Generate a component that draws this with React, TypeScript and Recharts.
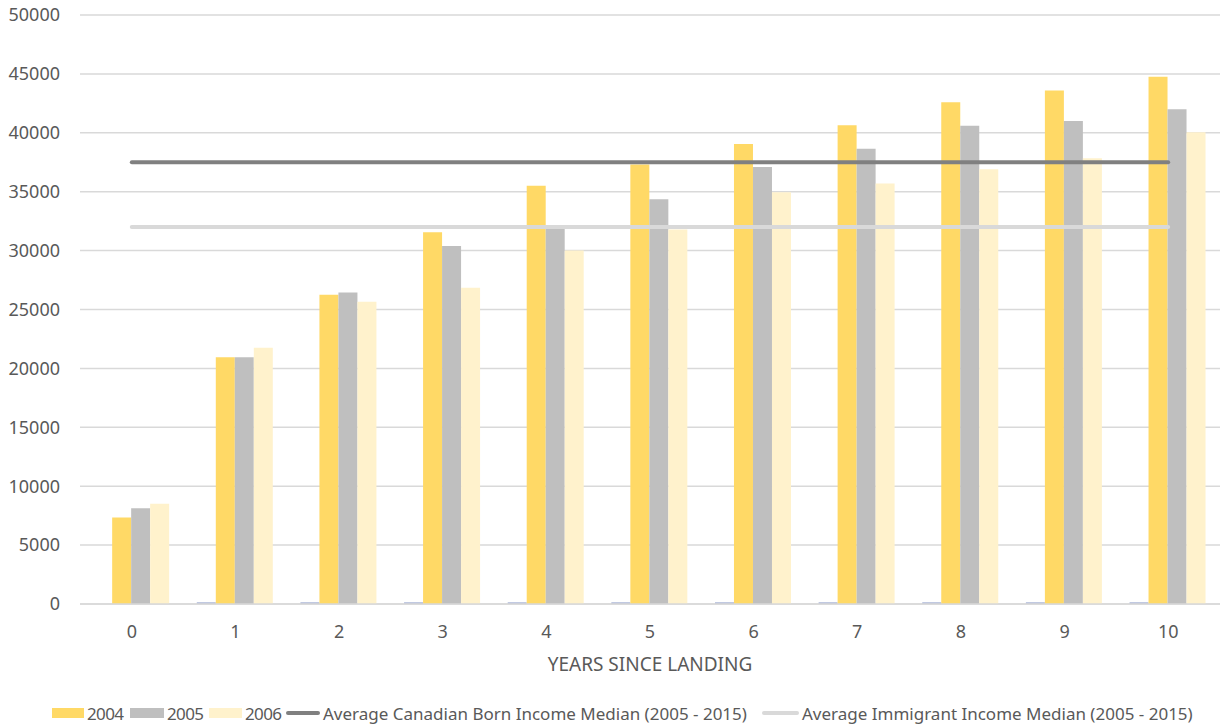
import React from 'react'
import { ComposedChart, Bar, Line, XAxis, YAxis, CartesianGrid, Legend } from 'recharts'

const yearsSinceLanding = ['0', '1', '2', '3', '4', '5', '6', '7', '8', '9', '10']
const income2004 = [7350, 20950, 26250, 31550, 35500, 37300, 39050, 40650, 42600, 43600, 44750]
const income2005 = [8120, 20950, 26450, 30400, 32000, 34350, 37100, 38650, 40600, 41000, 42000]
const income2006 = [8520, 21750, 25650, 26850, 30000, 31800, 34950, 35700, 36900, 37850, 40050]
// the tiny bluish stubs sitting on the zero line
const baseStub = [0, 150, 150, 150, 150, 150, 150, 150, 150, 150, 150]
const canadianBornMedian = [37500, 37500, 37500, 37500, 37500, 37500, 37500, 37500, 37500, 37500, 37500]
const immigrantMedian = [32000, 32000, 32000, 32000, 32000, 32000, 32000, 32000, 32000, 32000, 32000]
const yTicks = [0, 5000, 10000, 15000, 20000, 25000, 30000, 35000, 40000, 45000, 50000]

const data = yearsSinceLanding.map((year, i) => ({
	year,
	stub: baseStub[i],
	y2004: income2004[i],
	y2005: income2005[i],
	y2006: income2006[i],
	canadian: canadianBornMedian[i],
	immigrant: immigrantMedian[i],
}))

const FONT = '"Noto Sans", "Open Sans", sans-serif'
const TEXT = '#595959'

const legendItems = [
	{ label: '2004', color: '#FFD966', kind: 'rect', left: 52, w: 32 },
	{ label: '2005', color: '#BFBFBF', kind: 'rect', left: 130, w: 34 },
	{ label: '2006', color: '#FFF2CC', kind: 'rect', left: 209, w: 33 },
	{ label: 'Average Canadian Born Income Median (2005 - 2015)', color: '#808080', kind: 'line', left: 286, w: 34 },
	{ label: 'Average Immigrant Income Median (2005 - 2015)', color: '#D9D9D9', kind: 'line', left: 762, w: 37 },
]

const ChartLegend = () => (
	<div style={{ position: 'relative', width: 1222, height: 26, fontFamily: FONT, fontSize: 17, color: TEXT }}>
		{legendItems.map((item) => (
			<div
				key={item.label}
				style={{ position: 'absolute', left: item.left, top: 0, height: 26, display: 'flex', alignItems: 'center', whiteSpace: 'nowrap' }}
			>
				<span
					style={{
						display: 'inline-block',
						width: item.w,
						height: item.kind === 'rect' ? 10 : 4,
						borderRadius: item.kind === 'line' ? 2 : 0,
						background: item.color,
						marginRight: 3,
					}}
				/>
				<span style={{ letterSpacing: item.kind === 'rect' ? -0.6 : 0 }}>{item.label}</span>
			</div>
		))}
	</div>
)

export default function App() {
	return (
		<div style={{ position: 'absolute', left: 0, top: 0, background: '#fff' }}>
			<ComposedChart
				width={1222}
				height={727}
				data={data}
				margin={{ top: 15, right: 2, bottom: 53, left: 0 }}
				barCategoryGap={'12.7%'}
				barGap={0}
			>
				<CartesianGrid vertical={false} stroke={'#D9D9D9'} strokeWidth={1.5} />
				<XAxis
					dataKey={'year'}
					height={70}
					tickLine={false}
					tickMargin={15}
					axisLine={{ stroke: '#D9D9D9', strokeWidth: 1.5 }}
					tick={{ fontSize: 18, fill: TEXT, fontFamily: FONT }}
					label={{
						value: 'YEARS SINCE LANDING',
						position: 'insideBottom',
						offset: 3,
						style: { fontSize: 19, fill: TEXT, fontFamily: FONT },
					}}
				/>
				<YAxis
					width={80}
					domain={[0, 50000]}
					ticks={yTicks}
					interval={0}
					tickLine={false}
					axisLine={false}
					tickMargin={14}
					tick={{ fontSize: 18, fill: TEXT, fontFamily: FONT }}
				/>
				<Legend
					layout={'vertical'}
					align={'center'}
					verticalAlign={'middle'}
					wrapperStyle={{ left: 0, top: 700, width: 1222 }}
					content={() => <ChartLegend />}
				/>
				<Bar dataKey={'stub'} fill={'#AEB9D8'} isAnimationActive={false} />
				<Bar dataKey={'y2004'} name={'2004'} fill={'#FFD966'} isAnimationActive={false} />
				<Bar dataKey={'y2005'} name={'2005'} fill={'#BFBFBF'} isAnimationActive={false} />
				<Bar dataKey={'y2006'} name={'2006'} fill={'#FFF2CC'} isAnimationActive={false} />
				<Line
					type={'linear'}
					dataKey={'canadian'}
					name={'Average Canadian Born Income Median (2005 - 2015)'}
					stroke={'#808080'}
					strokeWidth={4}
					strokeLinecap={'round'}
					dot={false}
					activeDot={false}
					isAnimationActive={false}
				/>
				<Line
					type={'linear'}
					dataKey={'immigrant'}
					name={'Average Immigrant Income Median (2005 - 2015)'}
					stroke={'#D9D9D9'}
					strokeWidth={4}
					strokeLinecap={'round'}
					dot={false}
					activeDot={false}
					isAnimationActive={false}
				/>
			</ComposedChart>
		</div>
	)
}
